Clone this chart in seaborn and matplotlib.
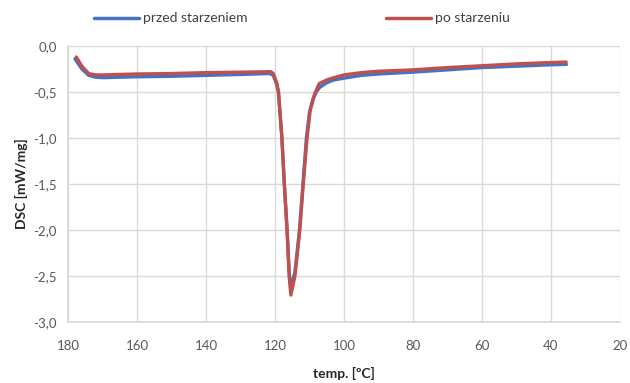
import matplotlib
matplotlib.use("Agg")
import matplotlib.pyplot as plt
import seaborn as sns
import pandas as pd
from matplotlib.ticker import FuncFormatter, MultipleLocator
from matplotlib.lines import Line2D

series_names = ["przed starzeniem", "po starzeniu"]

temp_before = [178, 176, 174, 172, 170, 160, 150, 140, 130, 121.5, 120.5, 119.5, 119, 118,
               117.3, 116.5, 115.9, 115.4, 114.2, 112.9, 111.9, 110.9, 110, 109, 108, 107,
               105, 103, 100, 95, 90, 80, 70, 60, 50, 40, 35.5]
dsc_before = [-0.14, -0.25, -0.32, -0.34, -0.345, -0.335, -0.33, -0.32, -0.31, -0.30, -0.32,
              -0.42, -0.5, -1.0, -1.5, -2.0, -2.45, -2.65, -2.45, -2.0, -1.5, -1.0, -0.72,
              -0.58, -0.50, -0.45, -0.40, -0.37, -0.35, -0.32, -0.305, -0.285, -0.26, -0.235,
              -0.22, -0.205, -0.2]

temp_after = [177.6, 176, 174, 172, 170, 160, 150, 140, 130, 121.2, 120.5, 119.5, 119, 118,
              117.3, 116.5, 115.9, 115.4, 114.2, 112.8, 111.8, 110.7, 109.8, 108.5, 107.2,
              105, 103.4, 100, 95, 90, 80, 70, 60, 50, 40, 35.6]
dsc_after = [-0.12, -0.22, -0.30, -0.315, -0.315, -0.305, -0.30, -0.29, -0.285, -0.28, -0.30,
             -0.40, -0.5, -1.0, -1.5, -2.0, -2.5, -2.71, -2.5, -2.0, -1.5, -1.0, -0.7, -0.52,
             -0.41, -0.37, -0.35, -0.315, -0.29, -0.275, -0.26, -0.235, -0.215, -0.195, -0.18,
             -0.175]

df = pd.concat([
    pd.DataFrame({"T": temp_before, "DSC": dsc_before, "s": series_names[0]}),
    pd.DataFrame({"T": temp_after, "DSC": dsc_after, "s": series_names[1]}),
])

sns.set_theme(style="white")
plt.rcParams["font.family"] = ["Lato", "DejaVu Sans"]

fig = plt.figure(figsize=(6.3, 3.83), dpi=100)
ax = fig.add_axes([0.108, 0.16, 0.876, 0.72])

sns.lineplot(data=df, x="T", y="DSC", hue="s", palette=["#4472C4", "#C0504D"],
             linewidth=2.4, sort=False, estimator=None, ax=ax, legend=False)

ax.set_xlim(180, 20)
ax.set_ylim(-3.0, 0.0)
ax.xaxis.set_major_locator(MultipleLocator(20))
ax.yaxis.set_major_locator(MultipleLocator(0.5))
ax.yaxis.set_major_formatter(FuncFormatter(lambda v, p: f"{v:.1f}".replace(".", ",").replace("-0,0", "0,0")))
ax.grid(True, color="#d9d9d9", linewidth=1)
ax.set_axisbelow(True)
for side in ["top", "right"]:
    ax.spines[side].set_visible(False)
for side in ["left", "bottom"]:
    ax.spines[side].set_color("#d9d9d9")
ax.tick_params(axis="x", length=0, labelsize=9.5, colors="#595959", pad=13)
ax.tick_params(axis="y", length=0, labelsize=9.5, colors="#595959", pad=8)

ax.set_xlabel("temp. [ºC]", fontsize=10, fontweight="bold", color="#262626", labelpad=11)
ax.set_ylabel("DSC [mW/mg]", fontsize=10, fontweight="bold", color="#262626", labelpad=4)

handles = [Line2D([], [], color="#4472C4", lw=2.5), Line2D([], [], color="#C0504D", lw=2.5)]
fig.legend(handles, series_names, loc="upper left", bbox_to_anchor=(0.13, 1.0), ncol=2,
           frameon=False, fontsize=10, handlelength=3.2, handletextpad=0.3,
           columnspacing=10, labelcolor="#404040")

fig.savefig("out.png", dpi=100)
